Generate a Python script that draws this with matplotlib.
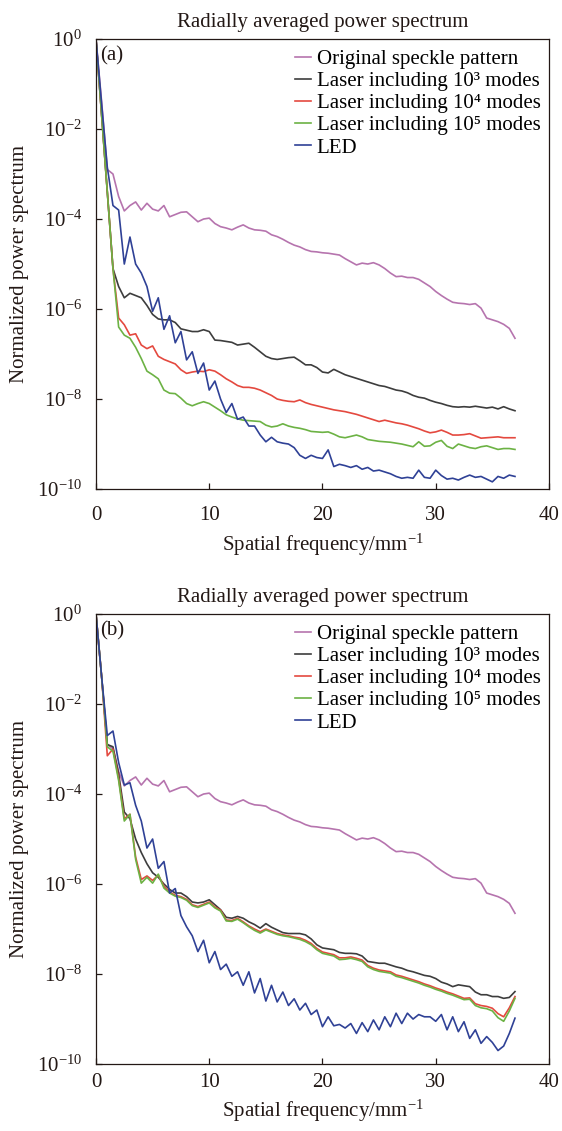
import numpy as np
import matplotlib
matplotlib.use("Agg")
import matplotlib.pyplot as plt
from matplotlib.ticker import NullLocator

plt.rcParams["font.family"] = ["Liberation Serif", "DejaVu Serif"]
plt.rcParams["mathtext.fontset"] = "custom"
plt.rcParams["mathtext.rm"] = "Liberation Serif"
plt.rcParams["mathtext.default"] = "regular"

# spatial frequency grid (mm^-1), step 0.5
freq = np.arange(0, 37.25, 0.5)

# log10 of the normalized power spectrum
orig = [0, -1.4, -2.9, -3.0, -3.5, -3.82, -3.7, -3.62, -3.8, -3.65,
        -3.78, -3.82, -3.7, -3.95, -3.9, -3.85, -3.84, -3.95, -4.06, -4.0,
        -3.98, -4.1, -4.17, -4.2, -4.24, -4.18, -4.13, -4.2, -4.24, -4.25,
        -4.27, -4.35, -4.39, -4.45, -4.52, -4.58, -4.62, -4.68, -4.72, -4.73,
        -4.75, -4.76, -4.78, -4.8, -4.88, -4.95, -5.02, -4.98, -5.0, -4.97,
        -5.02, -5.1, -5.2, -5.28, -5.27, -5.3, -5.3, -5.34, -5.42, -5.5,
        -5.61, -5.7, -5.78, -5.85, -5.87, -5.88, -5.9, -5.88, -5.98, -6.2,
        -6.24, -6.28, -6.34, -6.43, -6.65]

# panel (a)
a_1e3 = [0, -1.7, -3.4, -5.1, -5.5, -5.75, -5.65, -5.7, -5.75, -5.92,
         -6.12, -6.22, -6.24, -6.24, -6.3, -6.44, -6.47, -6.5, -6.5, -6.46,
         -6.5, -6.69, -6.7, -6.72, -6.74, -6.8, -6.78, -6.76, -6.85, -6.95,
         -7.05, -7.1, -7.12, -7.1, -7.08, -7.07, -7.15, -7.24, -7.24, -7.3,
         -7.4, -7.42, -7.34, -7.4, -7.46, -7.5, -7.54, -7.58, -7.62, -7.66,
         -7.7, -7.72, -7.76, -7.8, -7.82, -7.86, -7.92, -7.96, -7.98, -8.03,
         -8.07, -8.1, -8.14, -8.17, -8.18, -8.17, -8.18, -8.16, -8.18, -8.2,
         -8.18, -8.22, -8.17, -8.22, -8.26]
a_1e4 = [0, -1.7, -3.4, -5.1, -6.2, -6.35, -6.58, -6.55, -6.8, -6.88,
         -6.82, -7.05, -7.12, -7.17, -7.22, -7.35, -7.43, -7.4, -7.38, -7.39,
         -7.35, -7.38, -7.46, -7.55, -7.62, -7.7, -7.74, -7.74, -7.76, -7.8,
         -7.86, -7.92, -8.0, -8.03, -8.05, -8.06, -8.02, -8.08, -8.12, -8.15,
         -8.18, -8.21, -8.24, -8.26, -8.28, -8.31, -8.34, -8.38, -8.42, -8.46,
         -8.5, -8.47, -8.5, -8.53, -8.55, -8.58, -8.62, -8.66, -8.71, -8.75,
         -8.73, -8.69, -8.74, -8.8, -8.8, -8.79, -8.77, -8.82, -8.87, -8.86,
         -8.85, -8.84, -8.86, -8.86, -8.86]
a_1e5 = [0, -1.7, -3.4, -5.1, -6.4, -6.58, -6.65, -6.85, -7.1, -7.38,
         -7.46, -7.55, -7.8, -7.87, -7.88, -7.98, -8.1, -8.15, -8.1, -8.06,
         -8.1, -8.18, -8.26, -8.35, -8.4, -8.44, -8.47, -8.48, -8.49, -8.5,
         -8.58, -8.62, -8.6, -8.55, -8.6, -8.63, -8.65, -8.68, -8.72, -8.73,
         -8.74, -8.73, -8.78, -8.84, -8.86, -8.83, -8.8, -8.84, -8.9, -8.92,
         -8.94, -8.95, -8.96, -8.98, -9.0, -9.03, -9.06, -8.95, -9.05, -9.04,
         -8.96, -8.92, -9.05, -9.1, -9.0, -9.04, -9.08, -9.1, -9.06, -9.04,
         -9.08, -9.12, -9.1, -9.1, -9.12]
a_led = [0, -1.45, -2.85, -3.7, -3.8, -5.0, -4.4, -5.0, -5.2, -5.5,
         -6.05, -5.75, -6.45, -6.15, -6.75, -6.5, -7.13, -6.95, -7.43, -7.2,
         -7.8, -7.6, -8.0, -8.3, -8.1, -8.45, -8.4, -8.6, -8.6, -8.8,
         -8.95, -8.85, -8.95, -8.98, -9.0, -9.08, -9.25, -9.32, -9.25, -9.3,
         -9.32, -9.13, -9.5, -9.45, -9.48, -9.52, -9.48, -9.56, -9.52, -9.6,
         -9.58, -9.62, -9.66, -9.72, -9.76, -9.74, -9.76, -9.58, -9.74, -9.76,
         -9.58, -9.7, -9.78, -9.76, -9.8, -9.74, -9.69, -9.74, -9.72, -9.78,
         -9.84, -9.72, -9.76, -9.69, -9.72]

# panel (b)
b_1e3 = [0, -1.4, -2.9, -2.95, -3.55, -4.4, -4.55, -5.0, -5.3, -5.55,
         -5.75, -5.85, -6.0, -6.12, -6.2, -6.2, -6.28, -6.4, -6.42, -6.4,
         -6.35, -6.46, -6.57, -6.74, -6.76, -6.72, -6.76, -6.84, -6.9, -6.98,
         -6.88, -6.96, -7.02, -7.08, -7.1, -7.1, -7.1, -7.13, -7.22, -7.35,
         -7.42, -7.44, -7.46, -7.52, -7.54, -7.54, -7.55, -7.6, -7.72, -7.74,
         -7.76, -7.76, -7.8, -7.84, -7.87, -7.92, -7.95, -7.99, -8.03, -8.05,
         -8.1, -8.18, -8.22, -8.28, -8.24, -8.26, -8.28, -8.4, -8.46, -8.46,
         -8.5, -8.5, -8.54, -8.52, -8.39]
b_1e4 = [0, -1.4, -3.15, -3.0, -3.65, -4.55, -4.45, -5.4, -5.9, -5.82,
         -5.92, -5.8, -6.05, -6.18, -6.25, -6.28, -6.34, -6.46, -6.5, -6.45,
         -6.4, -6.51, -6.58, -6.8, -6.81, -6.76, -6.84, -6.93, -7.0, -7.06,
         -7.0, -7.05, -7.1, -7.13, -7.15, -7.18, -7.2, -7.25, -7.32, -7.43,
         -7.51, -7.54, -7.57, -7.64, -7.64, -7.62, -7.65, -7.69, -7.81, -7.87,
         -7.91, -7.93, -7.95, -8.02, -8.05, -8.09, -8.13, -8.17, -8.22, -8.26,
         -8.31, -8.35, -8.4, -8.44, -8.49, -8.54, -8.53, -8.66, -8.7, -8.72,
         -8.76, -8.88, -8.95, -8.75, -8.5]
b_1e5 = [0, -1.4, -2.95, -3.05, -3.7, -4.6, -4.45, -5.45, -5.98, -5.85,
         -5.98, -5.78, -6.09, -6.2, -6.27, -6.3, -6.36, -6.48, -6.52, -6.47,
         -6.42, -6.53, -6.6, -6.82, -6.83, -6.78, -6.86, -6.95, -7.03, -7.09,
         -7.02, -7.07, -7.12, -7.15, -7.17, -7.2, -7.23, -7.28, -7.35, -7.46,
         -7.54, -7.57, -7.6, -7.68, -7.67, -7.65, -7.68, -7.72, -7.84, -7.9,
         -7.94, -7.96, -7.98, -8.05, -8.08, -8.12, -8.16, -8.2, -8.25, -8.29,
         -8.34, -8.38, -8.43, -8.47, -8.52, -8.57, -8.56, -8.7, -8.75, -8.77,
         -8.82, -8.97, -9.05, -8.82, -8.54]
b_led = [0, -1.4, -2.7, -2.6, -3.3, -3.8, -3.75, -4.25, -4.6, -5.2,
         -5.0, -5.65, -5.5, -6.2, -6.1, -6.7, -6.95, -7.15, -7.5, -7.25,
         -7.75, -7.5, -7.9, -7.78, -8.05, -7.95, -8.25, -7.95, -8.42, -8.1,
         -8.6, -8.25, -8.62, -8.4, -8.7, -8.55, -8.8, -8.65, -8.9, -8.8,
         -9.17, -8.95, -9.15, -9.12, -9.2, -9.1, -9.32, -9.08, -9.28, -9.02,
         -9.24, -8.95, -9.17, -8.87, -9.1, -8.87, -9.0, -8.9, -8.95, -8.95,
         -9.05, -8.9, -9.24, -8.95, -9.28, -9.06, -9.43, -9.24, -9.54, -9.39,
         -9.52, -9.7, -9.6, -9.32, -8.98]

labels = ["Original speckle pattern",
          "Laser including 10\u00b3 modes",
          "Laser including 10\u2074 modes",
          "Laser including 10\u2075 modes",
          "LED"]
colors = ["#b674ae", "#3d3d3d", "#e4493f", "#6cb244", "#2f4196"]
ink = "#231815"
yticks = [1e0, 1e-2, 1e-4, 1e-6, 1e-8, 1e-10]
ytick_labels = ["$10^{0}$", "$10^{-2}$", "$10^{-4}$", "$10^{-6}$",
                "$10^{-8}$", "$10^{-10}$"]


def draw_panel(ax, series, tag, xpad, xlab_y):
    for vals, lab, col in zip(series, labels, colors):
        ax.plot(freq, 10.0 ** np.array(vals), color=col, lw=1.2, label=lab)
    ax.set_yscale("log")
    ax.set_xlim(0, 40)
    ax.set_ylim(1e-10, 1e0)
    ax.set_xticks([0, 10, 20, 30, 40])
    ax.set_yticks(yticks)
    ax.set_yticklabels(ytick_labels)
    ax.yaxis.set_minor_locator(NullLocator())
    ax.tick_params(direction="in", length=4, width=0.9, colors=ink,
                   labelsize=15, pad=10)
    ax.tick_params(axis="x", pad=xpad)
    for sp in ax.spines.values():
        sp.set_color(ink)
        sp.set_linewidth(0.9)
    ax.set_title("Radially averaged power spectrum", fontsize=15, pad=9,
                 color=ink)
    ax.set_xlabel("Spatial frequency/mm$^{-1}$", fontsize=15, color=ink)
    ax.set_ylabel("Normalized power spectrum", fontsize=15, color=ink)
    ax.xaxis.set_label_coords(0.5, xlab_y)
    ax.yaxis.set_label_coords(-0.147, 0.5)
    ax.text(0.009, 0.985, tag, transform=ax.transAxes, ha="left", va="top",
            fontsize=15, color=ink)
    ax.legend(loc="upper right", bbox_to_anchor=(1.0, 0.995), frameon=False,
              fontsize=15, handlelength=0.75, handletextpad=0.3,
              labelspacing=0.12, borderaxespad=0.2, borderpad=0.2)


fig = plt.figure(figsize=(5.62, 11.31), dpi=100)
ax1 = fig.add_axes([0.1708, 0.5676, 0.806, 0.3979])
ax2 = fig.add_axes([0.1708, 0.0592, 0.806, 0.3979])

draw_panel(ax1, [orig, a_1e3, a_1e4, a_1e5, a_led], "(a)", 12, -0.095)
draw_panel(ax2, [orig, b_1e3, b_1e4, b_1e5, b_led], "(b)", 6.5, -0.075)

fig.savefig("out.png", dpi=100)
